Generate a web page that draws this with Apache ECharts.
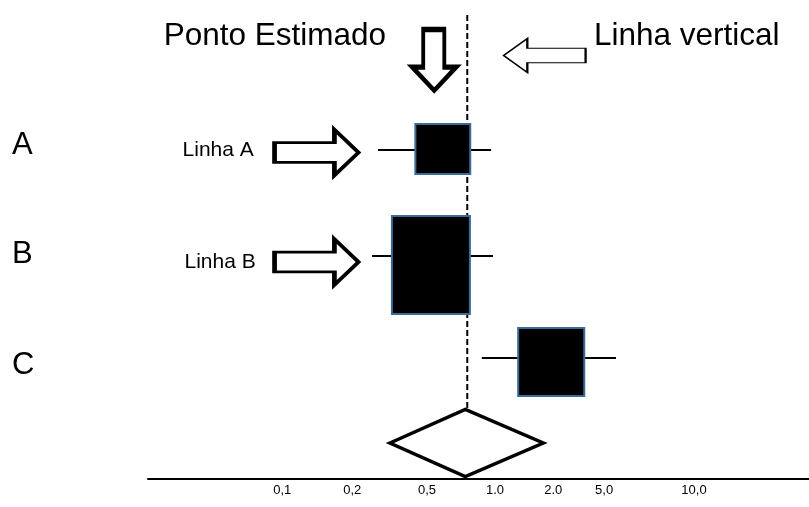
<!DOCTYPE html>
<html>
<head>
<meta charset="utf-8">
<script src="https://cdn.jsdelivr.net/npm/echarts@6/dist/echarts.min.js"></script>
<style>
html,body{margin:0;padding:0;background:#fff;}
#c{width:809px;height:507px;}
</style>
</head>
<body>
<div id="c"></div>
<script>
// ---- data (x in display-scale units 0..100, y in row-scale units 0..4.79) ----
const rowLabels = ['A', 'B', 'C'];
const rowLabelY = [3.34, 2.25, 1.14];
const estimate = [44.6, 42.8, 61.0];
const lower = [34.8, 33.9, 50.5];
const upper = [51.9, 52.2, 70.8];
const lineY = [3.29, 2.23, 1.21];
const boxY = [3.30, 2.14, 1.17];
const boxWidth = [8.3, 11.8, 10.0];
const boxHeight = [0.50, 0.98, 0.68];

const pooledEst = 48.0;
const pooledLower = 36.6;
const pooledUpper = 59.8;
const pooledY = 0.36;
const pooledHalfHeight = 0.335;

const nullLineX = 48.3;
const nullLineTop = 4.64;
const nullLineBottom = 0.69;

const tickPos = [20.3, 30.9, 42.2, 52.5, 61.3, 69.0, 82.6];
const tickLabels = ['0,1', '0,2', '0,5', '1.0', '2.0', '5,0', '10,0'];

// annotations
const noteTexts = ['Ponto Estimado', 'Linha vertical'];
const noteX = [19.2, 81.5];
const noteY = [4.43, 4.43];
const lineNoteTexts = ['Linha A', 'Linha B'];
const lineNoteX = [16.0, 16.3];
const lineNoteY = [3.29, 2.17];
const rightArrowX = [25.5, 25.5];
const rightArrowY = [3.265, 2.17];
const downArrowPos = [43.3, 4.19];
const leftArrowPos = [60.0, 4.235];

const FONT = '"Liberation Sans", Arial, sans-serif';

const chart = echarts.init(document.getElementById('c'));

const forestData = estimate.map((e, i) => [lower[i], upper[i], e, lineY[i], boxY[i], boxWidth[i], boxHeight[i]]);

const option = {
  animation: false,
  backgroundColor: '#fff',
  grid: { left: 148, right: 0, top: 0, bottom: 28 },
  xAxis: {
    type: 'value', min: 0, max: 100,
    axisLine: { show: true, lineStyle: { color: '#000', width: 2 } },
    axisTick: { show: false },
    splitLine: { show: false },
    axisLabel: {
      customValues: tickPos,
      margin: 5,
      fontSize: 13, color: '#000', fontFamily: FONT,
      formatter: function (v) {
        let best = 0, d = Infinity;
        tickPos.forEach((p, i) => { if (Math.abs(p - v) < d) { d = Math.abs(p - v); best = i; } });
        return tickLabels[best];
      }
    }
  },
  yAxis: {
    type: 'value', min: 0, max: 4.79,
    axisLine: { show: false },
    axisTick: { show: false },
    splitLine: { show: false },
    axisLabel: {
      customValues: rowLabelY,
      align: 'left',
      margin: 136,
      fontSize: 31, color: '#000', fontFamily: FONT,
      formatter: function (v) {
        let best = 0, d = Infinity;
        rowLabelY.forEach((p, i) => { if (Math.abs(p - v) < d) { d = Math.abs(p - v); best = i; } });
        return rowLabels[best];
      }
    }
  },
  series: [
    {
      type: 'line',
      data: [[nullLineX, nullLineTop], [nullLineX, nullLineBottom]],
      symbol: 'none',
      lineStyle: { color: '#000', width: 2, type: [6, 3] },
      z: 1
    },
    {
      type: 'custom',
      data: forestData,
      z: 3,
      renderItem: function (params, api) {
        const lo = api.value(0), hi = api.value(1), est = api.value(2);
        const ly = api.value(3), by = api.value(4), bw = api.value(5), bh = api.value(6);
        const p1 = api.coord([lo, ly]);
        const p2 = api.coord([hi, ly]);
        const tl = api.coord([est - bw / 2, by + bh / 2]);
        const br = api.coord([est + bw / 2, by - bh / 2]);
        return {
          type: 'group',
          children: [
            { type: 'line', shape: { x1: p1[0], y1: p1[1], x2: p2[0], y2: p2[1] },
              style: { stroke: '#000', lineWidth: 2 } },
            { type: 'rect', shape: { x: tl[0], y: tl[1], width: br[0] - tl[0], height: br[1] - tl[1] },
              style: { fill: '#000', stroke: '#3d6b99', lineWidth: 2 } }
          ]
        };
      }
    },
    {
      type: 'custom',
      data: [[pooledLower, pooledUpper, pooledEst, pooledY, pooledHalfHeight]],
      z: 3,
      renderItem: function (params, api) {
        const lo = api.value(0), hi = api.value(1), est = api.value(2), y = api.value(3), hh = api.value(4);
        const pts = [
          api.coord([lo, y]), api.coord([est, y + hh]), api.coord([hi, y]), api.coord([est, y - hh])
        ];
        return { type: 'polygon', shape: { points: pts },
          style: { fill: '#fff', stroke: '#000', lineWidth: 3.5, lineJoin: 'miter' } };
      }
    },
    // right block arrows (Linha A / Linha B)
    {
      type: 'scatter',
      data: rightArrowX.map((x, i) => [x, rightArrowY[i]]),
      symbol: 'path://M0,14 L62,14 L62,0 L87,24.5 L62,49 L62,35 L0,35 Z',
      symbolSize: [84, 46],
      itemStyle: { color: '#fff', borderColor: '#000', borderWidth: 3.5, opacity: 1 },
      z: 4
    },
    // down arrow
    {
      type: 'scatter',
      data: [downArrowPos],
      symbol: 'path://M12,0 L35,0 L35,40 L48,40 L24,65 L0,40 L12,40 Z',
      symbolSize: [44, 61],
      itemStyle: { color: '#fff', borderColor: '#000', borderWidth: 4.5, opacity: 1 },
      z: 4
    },
    // left arrow
    {
      type: 'scatter',
      data: [leftArrowPos],
      symbol: 'path://M0,17.5 L24,0 L24,10 L83,10 L83,25 L24,25 L24,35 Z',
      symbolSize: [82, 34],
      itemStyle: { color: '#fff', borderColor: '#000', borderWidth: 1.5, opacity: 1 },
      z: 4
    },
    // headline notes
    {
      type: 'scatter',
      data: noteX.map((x, i) => ({ value: [x, noteY[i]], name: noteTexts[i] })),
      symbolSize: 0,
      itemStyle: { opacity: 1 },
      label: { show: true, position: 'inside', formatter: '{b}', fontSize: 31.5, color: '#000', opacity: 1, fontFamily: FONT },
      z: 5
    },
    // line notes
    {
      type: 'scatter',
      data: lineNoteX.map((x, i) => ({ value: [x, lineNoteY[i]], name: lineNoteTexts[i] })),
      symbolSize: 0,
      itemStyle: { opacity: 1 },
      label: { show: true, position: 'left', distance: 0, formatter: '{b}', fontSize: 21, color: '#000', opacity: 1, fontFamily: FONT },
      z: 5
    }
  ]
};
chart.setOption(option);
</script>
</body>
</html>
